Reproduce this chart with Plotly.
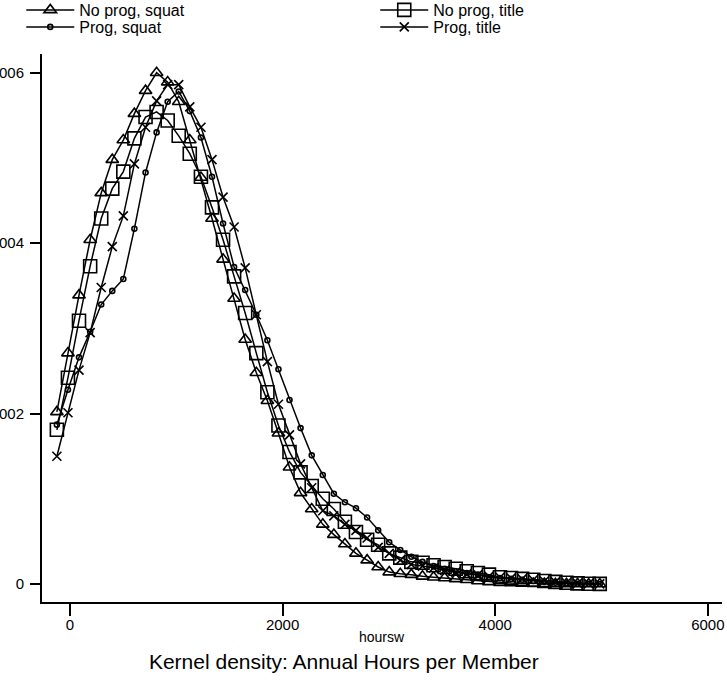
import plotly.graph_objects as go

# Evaluation grid (hours) shared by all four kernel density estimates
hours = [-123, -19, 85, 190, 294, 398, 502, 606, 711, 815,
         919, 1023, 1127, 1232, 1336, 1440, 1544, 1648, 1753, 1857,
         1961, 2065, 2169, 2274, 2378, 2482, 2586, 2690, 2795, 2899,
         3003, 3107, 3211, 3316, 3420, 3524, 3628, 3732, 3837, 3941,
         4045, 4149, 4253, 4358, 4462, 4566, 4670, 4774, 4879, 4983]

# densities in units of 1e-4
noprog_squat = [2.02, 2.71, 3.39, 4.04, 4.59, 4.98, 5.21, 5.52, 5.79, 6.00,
                5.89, 5.66, 5.21, 4.77, 4.29, 3.81, 3.35, 2.87, 2.48, 2.15,
                1.77, 1.37, 1.07, 0.88, 0.70, 0.58, 0.47, 0.36, 0.28, 0.20,
                0.14, 0.12, 0.11, 0.09, 0.08, 0.07, 0.06, 0.05, 0.035, 0.025,
                0.015, 0.012, 0.008, 0.005, 0.004, 0.003, 0.002, 0.002, 0.001, 0.001]

noprog_title = [1.81, 2.42, 3.09, 3.73, 4.29, 4.64, 4.84, 5.23, 5.48, 5.54,
                5.44, 5.26, 5.05, 4.78, 4.42, 4.04, 3.61, 3.18, 2.71, 2.25,
                1.86, 1.55, 1.31, 1.15, 1.00, 0.88, 0.73, 0.61, 0.52, 0.46,
                0.36, 0.31, 0.26, 0.25, 0.22, 0.20, 0.18, 0.15, 0.13, 0.11,
                0.08, 0.07, 0.06, 0.05, 0.035, 0.025, 0.015, 0.008, 0.004, 0.002]

prog_squat = [1.87, 2.28, 2.66, 2.96, 3.28, 3.44, 3.58, 4.17, 4.83, 5.30,
              5.66, 5.78, 5.55, 5.24, 4.78, 4.23, 3.72, 3.45, 3.16, 2.86,
              2.52, 2.16, 1.83, 1.51, 1.28, 1.06, 0.96, 0.89, 0.78, 0.63,
              0.49, 0.40, 0.32, 0.26, 0.21, 0.18, 0.15, 0.13, 0.11, 0.08,
              0.07, 0.06, 0.05, 0.035, 0.025, 0.015, 0.008, 0.004, 0.002, 0.001]

prog_title = [1.50, 2.01, 2.51, 2.95, 3.48, 3.96, 4.32, 4.93, 5.36, 5.67,
              5.86, 5.86, 5.60, 5.36, 4.98, 4.54, 4.19, 3.71, 3.16, 2.61,
              2.11, 1.75, 1.41, 1.13, 0.86, 0.80, 0.70, 0.63, 0.54, 0.43,
              0.36, 0.28, 0.23, 0.21, 0.19, 0.16, 0.14, 0.12, 0.11, 0.09,
              0.08, 0.07, 0.06, 0.05, 0.035, 0.025, 0.015, 0.008, 0.004, 0.002]

series_names = ["No prog, squat", "No prog, title", "Prog, squat", "Prog, title"]
legend_rows = ["legend", "legend", "legend2", "legend2"]
y_tickvals = [0, 0.0002, 0.0004, 0.0006]
y_ticktext = ["0", ".0002", ".0004", ".0006"]
x_tickvals = [0, 2000, 4000, 6000]

FONT = "Liberation Sans, Arial, sans-serif"
scale = 1e-4

styles = [
    dict(symbol="triangle-up-open", size=11),
    dict(symbol="square-open", size=13),
    dict(symbol="circle-open", size=5),
    dict(symbol="x-thin-open", size=9),
]
data = [noprog_squat, noprog_title, prog_squat, prog_title]

fig = go.Figure()
for name, vals, st, lg in zip(series_names, data, styles, legend_rows):
    fig.add_trace(go.Scatter(
        x=hours, y=[v * scale for v in vals], name=name, legend=lg,
        mode="lines+markers",
        line=dict(color="black", width=1.5),
        marker=dict(symbol=st["symbol"], size=st["size"], color="black",
                    line=dict(color="black", width=1.6)),
    ))

legend_common = dict(orientation="h", xanchor="left", yanchor="middle",
                     entrywidth=291, entrywidthmode="pixels", itemwidth=48,
                     font=dict(size=16, family=FONT), bgcolor="rgba(0,0,0,0)")

fig.update_layout(
    width=727, height=681,
    margin=dict(l=42, r=5, t=54, b=79, autoexpand=False),
    paper_bgcolor="white", plot_bgcolor="white",
    font=dict(family=FONT, color="black", size=15),
    showlegend=True,
    legend=dict(x=-0.0305, y=1 + (54 - 10) / 548, **legend_common),
    legend2=dict(x=-0.0305, y=1 + (54 - 27) / 548, **legend_common),
    title=dict(text="Kernel density: Annual Hours per Member",
               x=0.473, xanchor="center", y=0.028, yanchor="middle",
               font=dict(size=21, family=FONT, color="black")),
    xaxis=dict(range=[-263, 6133], tickvals=x_tickvals, automargin=False,
               showline=True, linecolor="black", linewidth=2,
               ticks="outside", ticklen=12, tickwidth=2, tickcolor="black",
               showgrid=False, zeroline=False, ticklabelstandoff=-4,
               tickfont=dict(size=15)),
    yaxis=dict(range=[-0.0000211, 0.000622], tickvals=y_tickvals, ticktext=y_ticktext,
               automargin=False, ticklabelstandoff=3,
               showline=True, linecolor="black", linewidth=2,
               ticks="outside", ticklen=10, tickwidth=2, tickcolor="black",
               showgrid=False, zeroline=False, tickfont=dict(size=15)),
    annotations=[dict(text="hoursw", xref="paper", yref="paper", x=0.5,
                      y=(602 - 637) / 548, xanchor="center", yanchor="middle",
                      showarrow=False, font=dict(size=14, family=FONT))],
)

fig.write_html("out.html", config={"displayModeBar": False},
               post_script="document.body.style.margin='0px';document.body.style.padding='0px';")
